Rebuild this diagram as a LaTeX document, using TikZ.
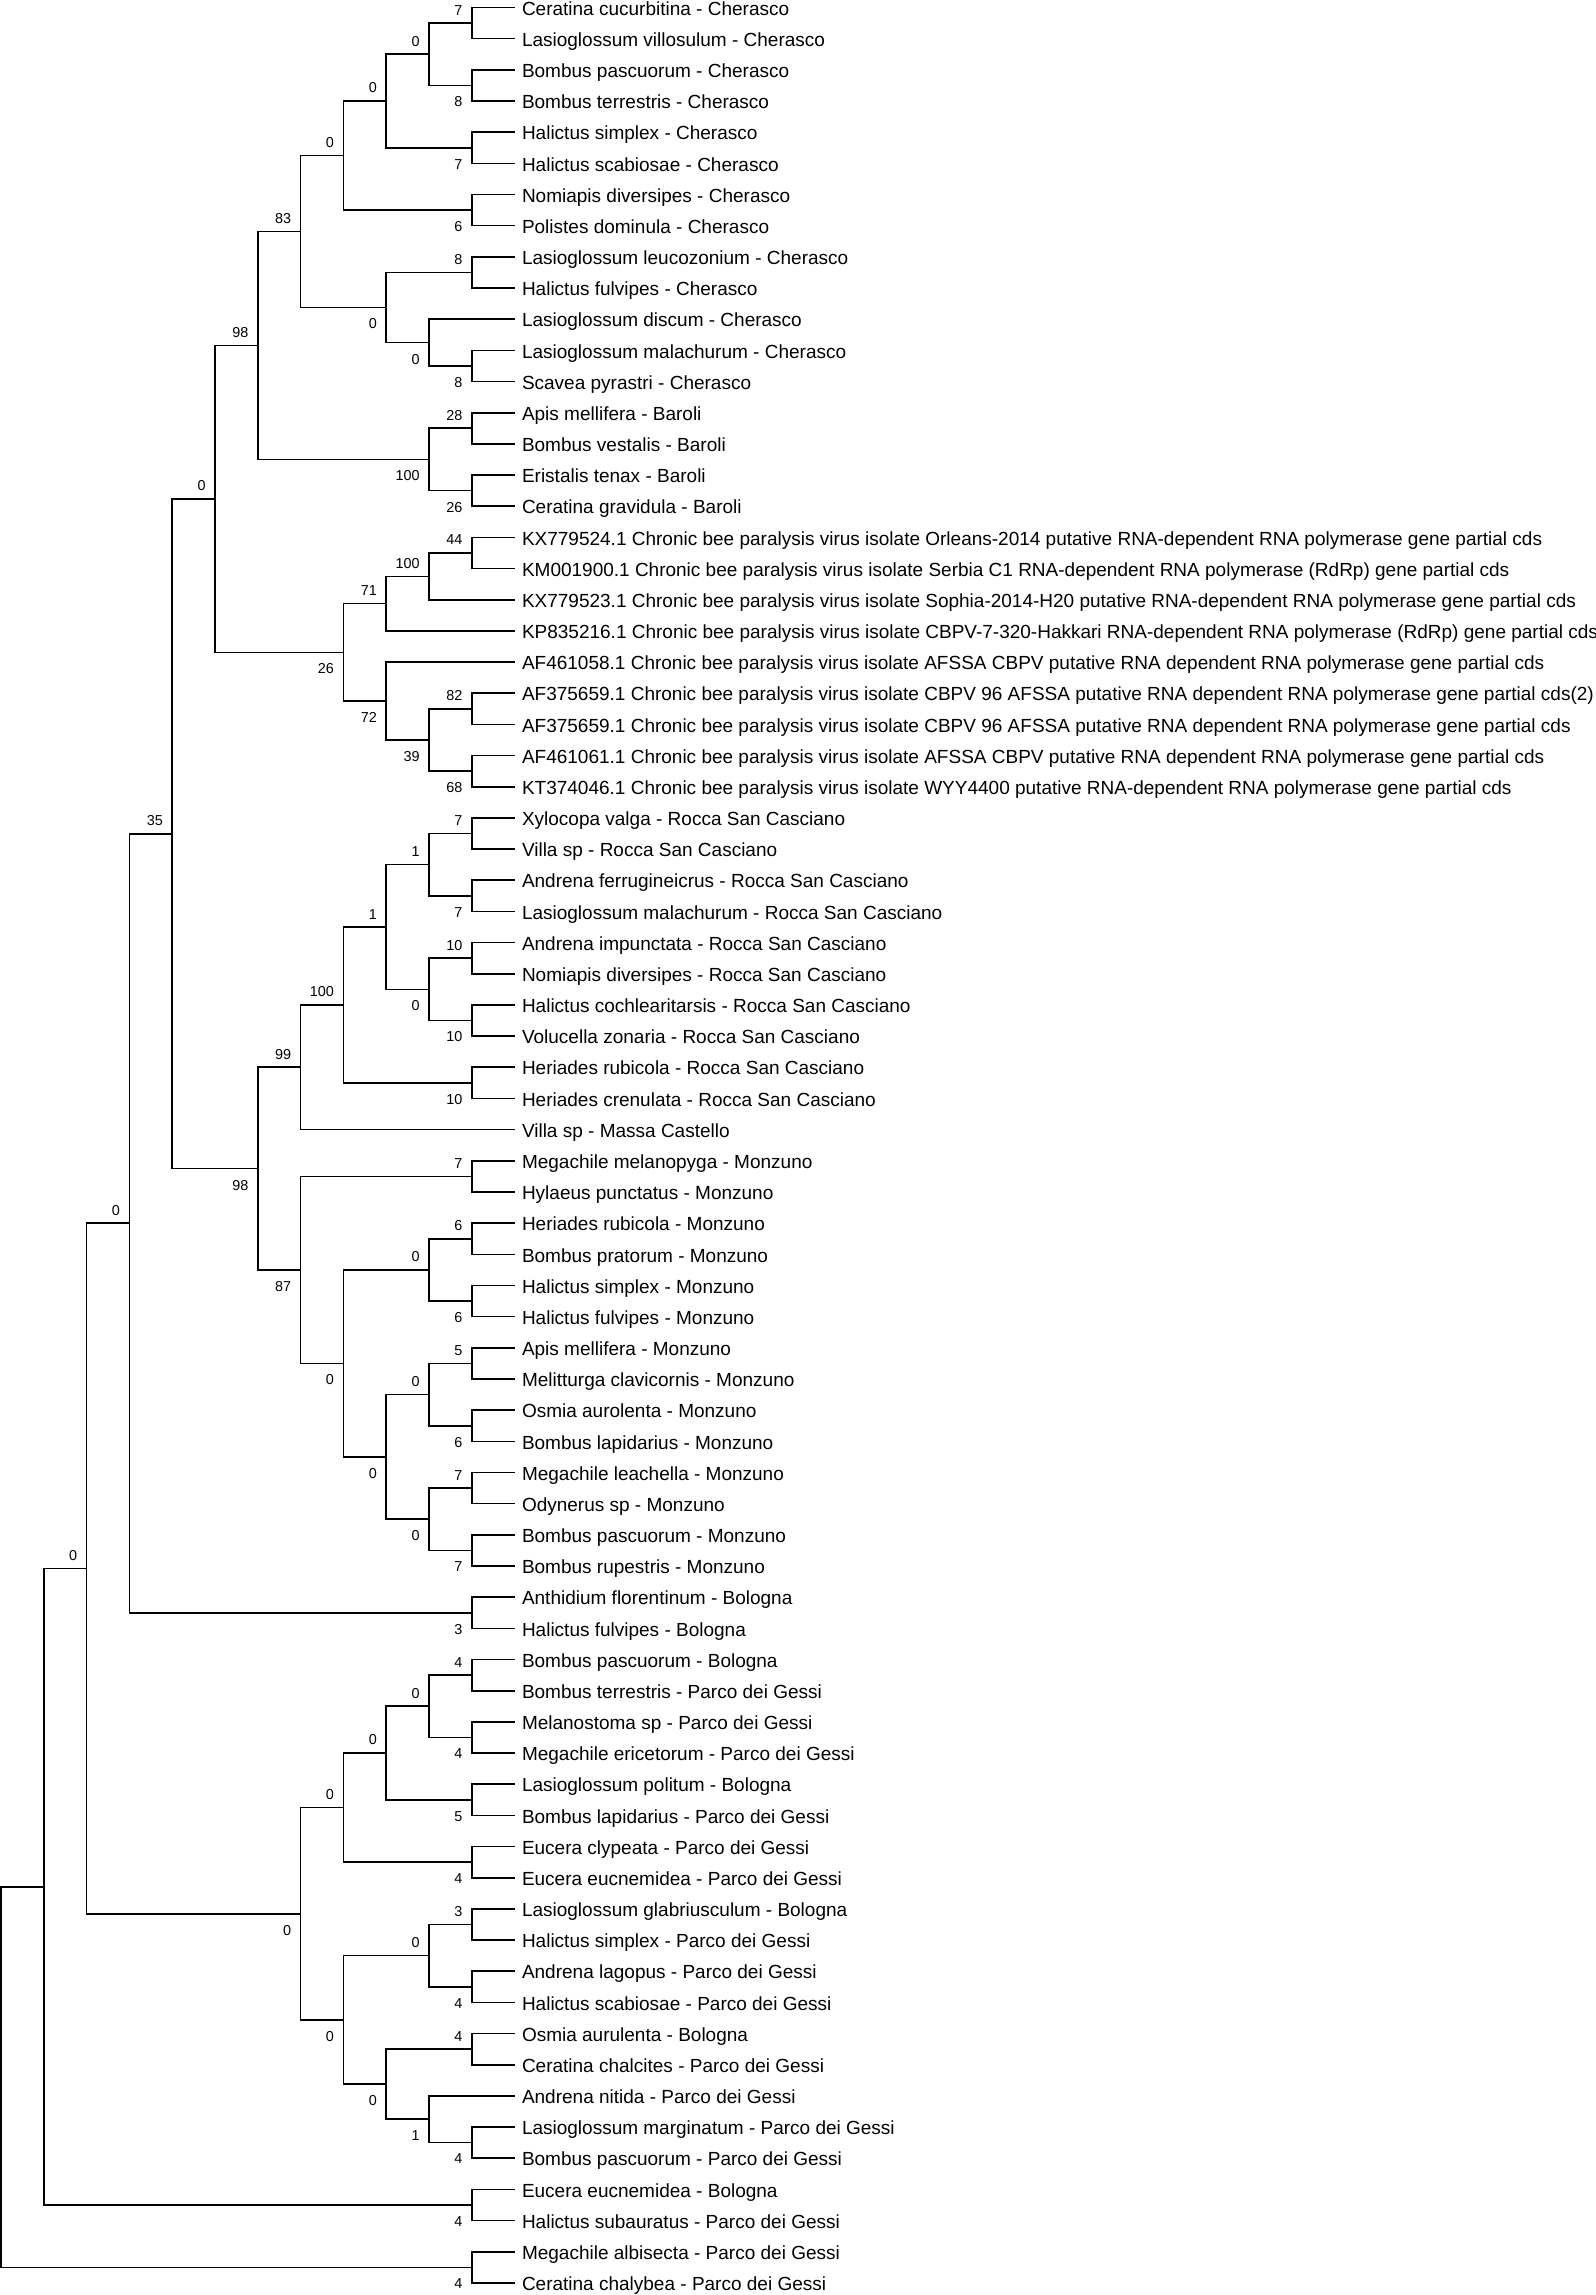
\documentclass[tikz,border=0pt]{standalone}
\usepackage{fontspec}
\setmainfont{Liberation Sans}

% joint: name, level, upper child, lower child
\newcommand\joint[4]{%
  \path (#3) -- (#4) coordinate[midway] (m#1);
  \coordinate (#1) at (m#1 -| lv#2);
  \draw[branch] (#3) -| (#1) |- (#4);
}
% clade: joint plus its bootstrap value, above (u) or below (d)
\newcommand\clade[6]{%
  \joint{#1}{#2}{#3}{#4}
  \node[b#6] (b#1) at (#1) {#5};
}

\begin{document}
\begin{tikzpicture}[x=0.5pt,y=-0.5pt,
  branch/.style={line width=0.8pt},
  leaf/.style={anchor=west,inner xsep=3.5pt,inner ysep=0pt,text height=7.7pt,text depth=0pt,font=\fontsize{9.5}{11}\selectfont},
  bu/.style={anchor=south east,inner sep=0pt,xshift=-4.5pt,yshift=3.8pt,font=\fontsize{7.2}{8}\selectfont},
  bd/.style={anchor=north east,inner sep=0pt,xshift=-4.5pt,yshift=-5.5pt,font=\fontsize{7.2}{8}\selectfont}]
\useasboundingbox (0,0) rectangle (1595,2295);

\foreach \k in {0,...,12}
{
    \coordinate (lv\k) at ({1+42.8*\k},0);
}

\foreach \i/\t in {
  1/{Ceratina cucurbitina - Cherasco},
  2/{Lasioglossum villosulum - Cherasco},
  3/{Bombus pascuorum - Cherasco},
  4/{Bombus terrestris - Cherasco},
  5/{Halictus simplex - Cherasco},
  6/{Halictus scabiosae - Cherasco},
  7/{Nomiapis diversipes - Cherasco},
  8/{Polistes dominula - Cherasco},
  9/{Lasioglossum leucozonium - Cherasco},
  10/{Halictus fulvipes - Cherasco},
  11/{Lasioglossum discum - Cherasco},
  12/{Lasioglossum malachurum - Cherasco},
  13/{Scavea pyrastri - Cherasco},
  14/{Apis mellifera - Baroli},
  15/{Bombus vestalis - Baroli},
  16/{Eristalis tenax - Baroli},
  17/{Ceratina gravidula - Baroli},
  18/{KX779524.1 Chronic bee paralysis virus isolate Orleans-2014 putative RNA-dependent RNA polymerase gene partial cds},
  19/{KM001900.1 Chronic bee paralysis virus isolate Serbia C1 RNA-dependent RNA polymerase (RdRp) gene partial cds},
  20/{KX779523.1 Chronic bee paralysis virus isolate Sophia-2014-H20 putative RNA-dependent RNA polymerase gene partial cds},
  21/{KP835216.1 Chronic bee paralysis virus isolate CBPV-7-320-Hakkari RNA-dependent RNA polymerase (RdRp) gene partial cds},
  22/{AF461058.1 Chronic bee paralysis virus isolate AFSSA CBPV putative RNA dependent RNA polymerase gene partial cds},
  23/{AF375659.1 Chronic bee paralysis virus isolate CBPV 96 AFSSA putative RNA dependent RNA polymerase gene partial cds(2)},
  24/{AF375659.1 Chronic bee paralysis virus isolate CBPV 96 AFSSA putative RNA dependent RNA polymerase gene partial cds},
  25/{AF461061.1 Chronic bee paralysis virus isolate AFSSA CBPV putative RNA dependent RNA polymerase gene partial cds},
  26/{KT374046.1 Chronic bee paralysis virus isolate WYY4400 putative RNA-dependent RNA polymerase gene partial cds},
  27/{Xylocopa valga - Rocca San Casciano},
  28/{Villa sp - Rocca San Casciano},
  29/{Andrena ferrugineicrus - Rocca San Casciano},
  30/{Lasioglossum malachurum - Rocca San Casciano},
  31/{Andrena impunctata - Rocca San Casciano},
  32/{Nomiapis diversipes - Rocca San Casciano},
  33/{Halictus cochlearitarsis - Rocca San Casciano},
  34/{Volucella zonaria - Rocca San Casciano},
  35/{Heriades rubicola - Rocca San Casciano},
  36/{Heriades crenulata - Rocca San Casciano},
  37/{Villa sp - Massa Castello},
  38/{Megachile melanopyga - Monzuno},
  39/{Hylaeus punctatus - Monzuno},
  40/{Heriades rubicola - Monzuno},
  41/{Bombus pratorum - Monzuno},
  42/{Halictus simplex - Monzuno},
  43/{Halictus fulvipes - Monzuno},
  44/{Apis mellifera - Monzuno},
  45/{Melitturga clavicornis - Monzuno},
  46/{Osmia aurolenta - Monzuno},
  47/{Bombus lapidarius - Monzuno},
  48/{Megachile leachella - Monzuno},
  49/{Odynerus sp - Monzuno},
  50/{Bombus pascuorum - Monzuno},
  51/{Bombus rupestris - Monzuno},
  52/{Anthidium florentinum - Bologna},
  53/{Halictus fulvipes - Bologna},
  54/{Bombus pascuorum - Bologna},
  55/{Bombus terrestris - Parco dei Gessi},
  56/{Melanostoma sp - Parco dei Gessi},
  57/{Megachile ericetorum - Parco dei Gessi},
  58/{Lasioglossum politum - Bologna},
  59/{Bombus lapidarius - Parco dei Gessi},
  60/{Eucera clypeata - Parco dei Gessi},
  61/{Eucera eucnemidea - Parco dei Gessi},
  62/{Lasioglossum glabriusculum - Bologna},
  63/{Halictus simplex - Parco dei Gessi},
  64/{Andrena lagopus - Parco dei Gessi},
  65/{Halictus scabiosae - Parco dei Gessi},
  66/{Osmia aurulenta - Bologna},
  67/{Ceratina chalcites - Parco dei Gessi},
  68/{Andrena nitida - Parco dei Gessi},
  69/{Lasioglossum marginatum - Parco dei Gessi},
  70/{Bombus pascuorum - Parco dei Gessi},
  71/{Eucera eucnemidea - Bologna},
  72/{Halictus subauratus - Parco dei Gessi},
  73/{Megachile albisecta - Parco dei Gessi},
  74/{Ceratina chalybea - Parco dei Gessi}}
{
    \node[leaf] (l\i) at (514.6,{7.5+31.17*(\i-1)}) {\t};
}

% Cherasco and Baroli
\clade{n1_2}{11}{l1.west}{l2.west}{7}{u}
\clade{n3_4}{11}{l3.west}{l4.west}{8}{d}
\clade{n1_4}{10}{n1_2}{n3_4}{0}{u}
\clade{n5_6}{11}{l5.west}{l6.west}{7}{d}
\clade{n1_6}{9}{n1_4}{n5_6}{0}{u}
\clade{n7_8}{11}{l7.west}{l8.west}{6}{d}
\clade{n1_8}{8}{n1_6}{n7_8}{0}{u}
\clade{n9_10}{11}{l9.west}{l10.west}{8}{u}
\clade{n12_13}{11}{l12.west}{l13.west}{8}{d}
\clade{n11_13}{10}{l11.west}{n12_13}{0}{d}
\clade{n9_13}{9}{n9_10}{n11_13}{0}{d}
\clade{n1_13}{7}{n1_8}{n9_13}{83}{u}
\clade{n14_15}{11}{l14.west}{l15.west}{28}{u}
\clade{n16_17}{11}{l16.west}{l17.west}{26}{d}
\clade{n14_17}{10}{n14_15}{n16_17}{100}{d}
\clade{n1_17}{6}{n1_13}{n14_17}{98}{u}
% CBPV references
\clade{n18_19}{11}{l18.west}{l19.west}{44}{u}
\clade{n18_20}{10}{n18_19}{l20.west}{100}{u}
\clade{n18_21}{9}{n18_20}{l21.west}{71}{u}
\clade{n23_24}{11}{l23.west}{l24.west}{82}{u}
\clade{n25_26}{11}{l25.west}{l26.west}{68}{d}
\clade{n23_26}{10}{n23_24}{n25_26}{39}{d}
\clade{n22_26}{9}{l22.west}{n23_26}{72}{d}
\clade{n18_26}{8}{n18_21}{n22_26}{26}{d}
\clade{n1_26}{5}{n1_17}{n18_26}{0}{u}
% Rocca San Casciano, Massa Castello, Monzuno
\clade{n27_28}{11}{l27.west}{l28.west}{7}{u}
\clade{n29_30}{11}{l29.west}{l30.west}{7}{d}
\clade{n27_30}{10}{n27_28}{n29_30}{1}{u}
\clade{n31_32}{11}{l31.west}{l32.west}{10}{u}
\clade{n33_34}{11}{l33.west}{l34.west}{10}{d}
\clade{n31_34}{10}{n31_32}{n33_34}{0}{d}
\clade{n27_34}{9}{n27_30}{n31_34}{1}{u}
\clade{n35_36}{11}{l35.west}{l36.west}{10}{d}
\clade{n27_36}{8}{n27_34}{n35_36}{100}{u}
\clade{n27_37}{7}{n27_36}{l37.west}{99}{u}
\clade{n38_39}{11}{l38.west}{l39.west}{7}{u}
\clade{n40_41}{11}{l40.west}{l41.west}{6}{u}
\clade{n42_43}{11}{l42.west}{l43.west}{6}{d}
\clade{n40_43}{10}{n40_41}{n42_43}{0}{u}
\clade{n44_45}{11}{l44.west}{l45.west}{5}{u}
\clade{n46_47}{11}{l46.west}{l47.west}{6}{d}
\clade{n44_47}{10}{n44_45}{n46_47}{0}{u}
\clade{n48_49}{11}{l48.west}{l49.west}{7}{u}
\clade{n50_51}{11}{l50.west}{l51.west}{7}{d}
\clade{n48_51}{10}{n48_49}{n50_51}{0}{d}
\clade{n44_51}{9}{n44_47}{n48_51}{0}{d}
\clade{n40_51}{8}{n40_43}{n44_51}{0}{d}
\clade{n38_51}{7}{n38_39}{n40_51}{87}{d}
\clade{n27_51}{6}{n27_37}{n38_51}{98}{d}
\clade{n1_51}{4}{n1_26}{n27_51}{35}{u}
\clade{n52_53}{11}{l52.west}{l53.west}{3}{d}
\clade{n1_53}{3}{n1_51}{n52_53}{0}{u}
% Bologna and Parco dei Gessi
\clade{n54_55}{11}{l54.west}{l55.west}{4}{u}
\clade{n56_57}{11}{l56.west}{l57.west}{4}{d}
\clade{n54_57}{10}{n54_55}{n56_57}{0}{u}
\clade{n58_59}{11}{l58.west}{l59.west}{5}{d}
\clade{n54_59}{9}{n54_57}{n58_59}{0}{u}
\clade{n60_61}{11}{l60.west}{l61.west}{4}{d}
\clade{n54_61}{8}{n54_59}{n60_61}{0}{u}
\clade{n62_63}{11}{l62.west}{l63.west}{3}{u}
\clade{n64_65}{11}{l64.west}{l65.west}{4}{d}
\clade{n62_65}{10}{n62_63}{n64_65}{0}{u}
\clade{n66_67}{11}{l66.west}{l67.west}{4}{u}
\clade{n69_70}{11}{l69.west}{l70.west}{4}{d}
\clade{n68_70}{10}{l68.west}{n69_70}{1}{d}
\clade{n66_70}{9}{n66_67}{n68_70}{0}{d}
\clade{n62_70}{8}{n62_65}{n66_70}{0}{d}
\clade{n54_70}{7}{n54_61}{n62_70}{0}{d}
\clade{n1_70}{2}{n1_53}{n54_70}{0}{u}
\clade{n71_72}{11}{l71.west}{l72.west}{4}{d}
\clade{n73_74}{11}{l73.west}{l74.west}{4}{d}
\joint{n1_72}{1}{n1_70}{n71_72}
\joint{root}{0}{n1_72}{n73_74}

\end{tikzpicture}
\end{document}
